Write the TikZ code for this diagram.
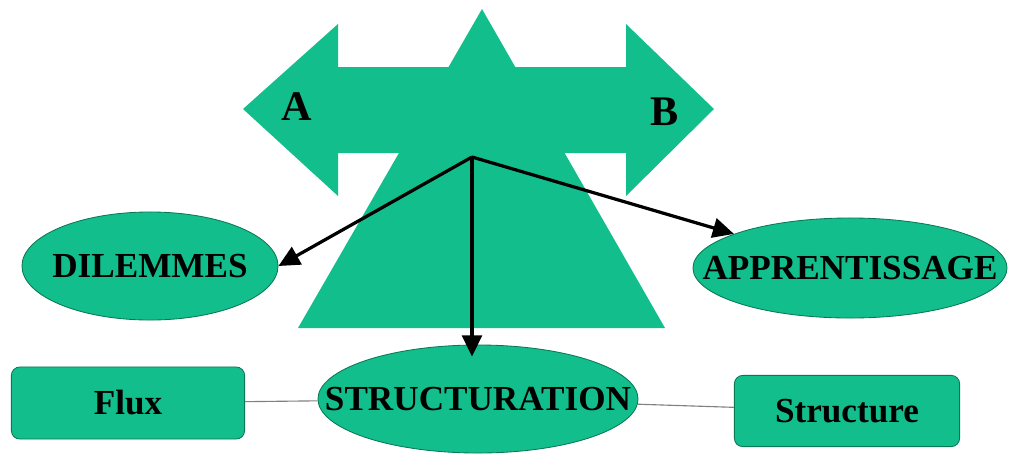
\documentclass[tikz,border=0pt]{standalone}
\usepackage{fontspec}
\setmainfont{Liberation Serif}
\usepackage{tikz}
\usetikzlibrary{arrows.meta,shapes.geometric}
\definecolor{leaf}{RGB}{18,190,140}
\definecolor{leafedge}{RGB}{10,120,85}
\newcommand{\wide}[1]{\makebox[0pt]{#1}}

\begin{document}
\begin{tikzpicture}[x=0.025cm,y=-0.025cm,
  oval/.style={ellipse, fill=leaf, draw=leafedge, line width=0.6pt, inner sep=0pt, font=\fontsize{25}{30}\selectfont\bfseries},
  box/.style={rectangle, rounded corners=6pt, fill=leaf, draw=leafedge, line width=0.6pt, font=\fontsize{25}{30}\selectfont\bfseries},
  side/.style={font=\fontsize{30}{34}\selectfont\bfseries},
  link/.style={-{Triangle[length=15pt,width=14pt]}, line width=2.3pt},
  tie/.style={draw=gray, line width=0.8pt}]
\useasboundingbox (0,0) rectangle (1011,455);

% Balance: triangle and double arrow
\fill[leaf] (482,9) -- (665,328) -- (298,328) -- cycle;
\fill[leaf] (243,109) -- (338,24) -- (338,67) -- (626,67) -- (626,24) -- (714,109)
  -- (626,196) -- (626,153) -- (338,153) -- (338,196) -- cycle;
\node[side] (a) at (297,107) {A};
\node[side] (b) at (665,112) {B};
\coordinate (hub) at (472,157);

% Ovals
\node[oval, minimum width=6.4cm, minimum height=2.7cm] (dil) at (150,266) {\wide{DILEMMES}};
\node[oval, minimum width=7.85cm, minimum height=2.5cm] (app) at (850,268) {\wide{APPRENTISSAGE}};
\node[oval, minimum width=8cm, minimum height=2.7cm] (str) at (478,399) {\wide{STRUCTURATION}};

% Boxes
\node[box, minimum width=5.83cm, minimum height=1.8cm] (flux) at (128,403) {Flux};
\node[box, minimum width=5.63cm, minimum height=1.78cm] (stru) at (847,411) {Structure};

% Links
\draw[tie] (flux) -- (str);
\draw[tie] (str) -- (stru);
\draw[link] (hub) -- (dil.east);
\draw[link] (hub) -- (app);
\draw[link, shorten >=-0.3cm] (hub) -- (hub |- str.north);
\end{tikzpicture}
\end{document}
